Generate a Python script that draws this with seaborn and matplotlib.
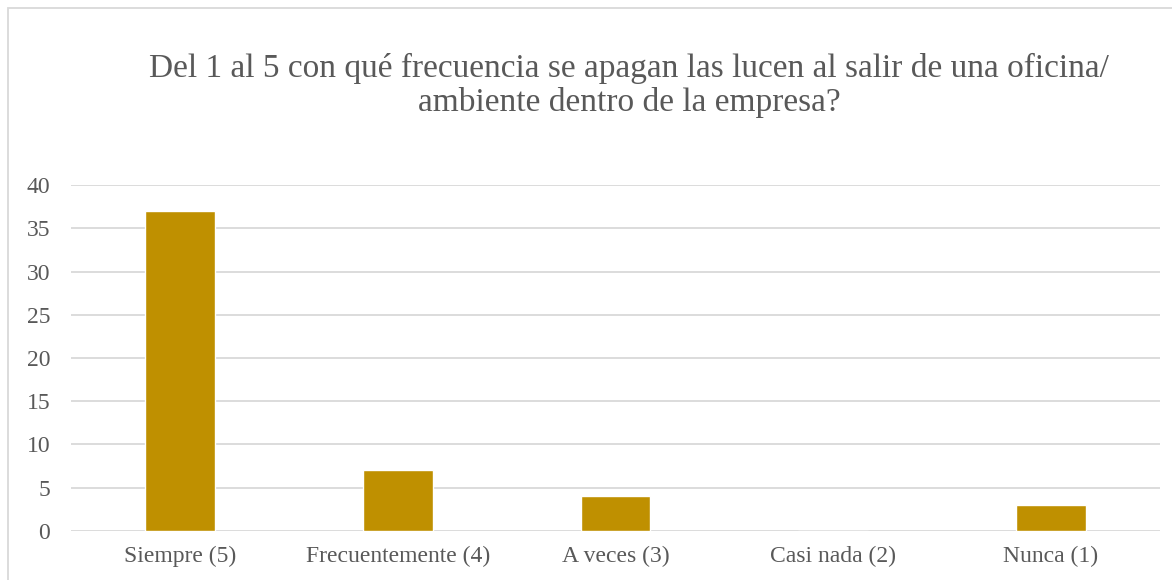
import seaborn as sns
import matplotlib.pyplot as plt
import matplotlib.patches as mpatches
import pandas as pd

# data
categorias = ['Siempre (5)', 'Frecuentemente (4)', 'A veces (3)', 'Casi nada (2)', 'Nunca (1)']
respuestas = [37, 7, 4, 0, 3]
y_ticks = [0, 5, 10, 15, 20, 25, 30, 35, 40]

df = pd.DataFrame({'categoria': categorias, 'respuestas': respuestas})

sns.set_style('white')
plt.rcParams['font.family'] = ['Liberation Serif', 'DejaVu Serif']

fig = plt.figure(figsize=(11.72, 5.8), dpi=100)
ax = fig.add_axes([0.0606, 0.0845, 0.929, 0.5965])

sns.barplot(data=df, x='categoria', y='respuestas', color='#BF9000',
            saturation=1, width=0.32, ax=ax, zorder=3)

ax.set_ylim(0, 40)
ax.set_yticks(y_ticks)
ax.set_xlim(-0.5, len(categorias) - 0.5)
ax.grid(axis='y', color='#D9D9D9', linewidth=1.3, zorder=0)
for s in ax.spines.values():
    s.set_visible(False)
ax.tick_params(axis='both', length=0, labelsize=17, labelcolor='#595959')
ax.tick_params(axis='x', pad=11)
ax.tick_params(axis='y', pad=15)
ax.set_xlabel('')
ax.set_ylabel('')

fig.text(0.537, 0.852, 'Del 1 al 5 con qué frecuencia se apagan las lucen al salir de una oficina/\nambiente dentro de la empresa?',
         ha='center', va='center', fontsize=24, color='#595959', linespacing=1.12)

# chart border
fig.patches.append(mpatches.Rectangle((8 / 1172, -0.05), 1.2, 1 - 8 / 580 + 0.05,
                                      transform=fig.transFigure, fill=False,
                                      edgecolor='#D9D9D9', linewidth=1.3))

fig.savefig('out.png', dpi=100)
